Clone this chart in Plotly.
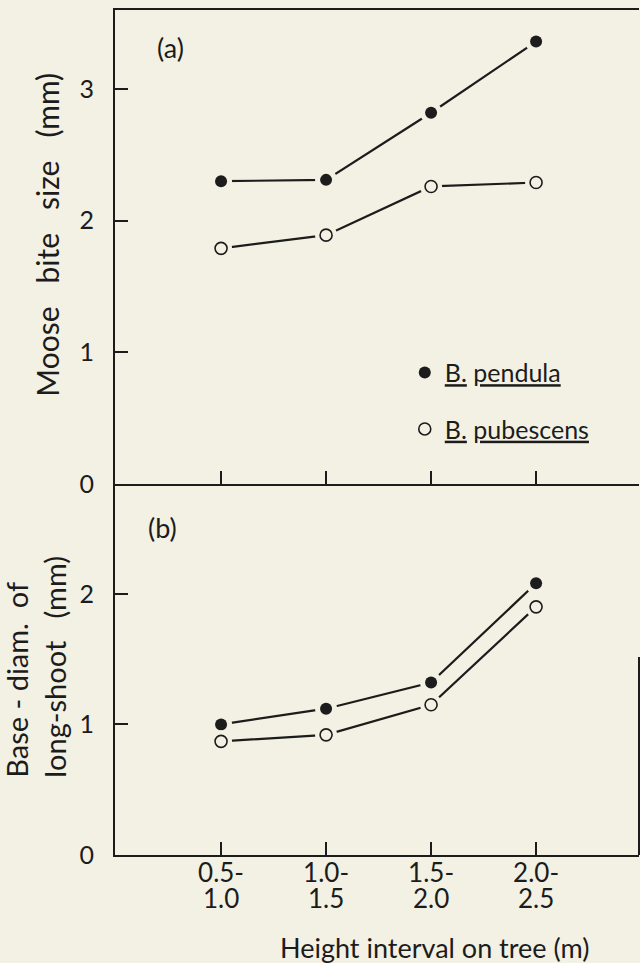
import plotly.graph_objects as go

# Height intervals on the tree (m)
heights = ["0.5-1.0", "1.0-1.5", "1.5-2.0", "2.0-2.5"]

# (a) Moose bite size (mm)
bite_pendula = [2.30, 2.31, 2.82, 3.36]
bite_pubescens = [1.79, 1.89, 2.26, 2.29]

# (b) Base diameter of long-shoot (mm)
diam_pendula = [1.00, 1.12, 1.32, 2.08]
diam_pubescens = [0.87, 0.92, 1.15, 1.90]

species = ["<u>B.</u> <u>pendula</u>", "<u>B.</u> <u>pubescens</u>"]

upper_lines = [h.split("-")[0] + "-" for h in heights]
lower_lines = [h.split("-")[1] for h in heights]

BG = "#f3f1e3"
INK = "#1c1c1c"
FONT = "Lato"

fig = go.Figure()


def add_series(y, xa, ya, filled, name, legend):
    # connecting line
    fig.add_trace(go.Scatter(x=heights, y=y, xaxis=xa, yaxis=ya, mode="lines",
                             line=dict(color=INK, width=2.2),
                             showlegend=False, hoverinfo="skip"))
    # background-coloured halo leaves a small gap between line and symbol
    fig.add_trace(go.Scatter(x=heights, y=y, xaxis=xa, yaxis=ya, mode="markers",
                             marker=dict(size=22, color=BG, line=dict(width=0)),
                             showlegend=False, hoverinfo="skip"))
    if filled:
        marker = dict(size=12, color=INK, line=dict(width=0))
    else:
        marker = dict(size=12, color=BG, line=dict(width=1.6, color=INK))
    fig.add_trace(go.Scatter(x=heights, y=y, xaxis=xa, yaxis=ya, mode="markers",
                             marker=marker, name=name, showlegend=legend,
                             legendgroup=name))


add_series(bite_pendula, "x", "y", True, species[0], True)
add_series(bite_pubescens, "x", "y", False, species[1], True)
add_series(diam_pendula, "x2", "y2", True, species[0], False)
add_series(diam_pubescens, "x2", "y2", False, species[1], False)

# invisible carrier so the second tick-label row axis has categories to show
fig.add_trace(go.Scatter(x=heights, y=diam_pendula, xaxis="x3", yaxis="y2",
                         mode="markers", marker=dict(opacity=0),
                         showlegend=False, hoverinfo="skip"))

xcommon = dict(type="category", categoryorder="array", categoryarray=heights,
               range=[-1.01, 3.98], showgrid=False, zeroline=False,
               showline=True, linecolor=INK, linewidth=2,
               ticks="inside", ticklen=13, tickwidth=2, tickcolor=INK,
               tickmode="array", tickvals=heights)
ycommon = dict(showgrid=False, zeroline=False, showline=True, linecolor=INK,
               linewidth=2, ticks="inside", ticklen=13, tickwidth=2,
               tickcolor=INK, tickfont=dict(size=25, color=INK, family=FONT),
               ticklabelstandoff=14)

fig.update_layout(
    width=640, height=963,
    margin=dict(l=115, r=1, t=10, b=108),
    paper_bgcolor=BG, plot_bgcolor=BG,
    font=dict(family=FONT, color=INK),
    xaxis=dict(**xcommon, anchor="y", domain=[0, 1], mirror=True,
               showticklabels=False),
    yaxis=dict(**ycommon, anchor="x", domain=[0.439, 1], range=[0, 3.6],
               tickvals=[0, 1, 2, 3]),
    xaxis2=dict(**xcommon, anchor="y2", domain=[0, 1], ticktext=upper_lines,
                tickfont=dict(size=26, color=INK, family=FONT),
                ticklabelstandoff=-6),
    yaxis2=dict(**ycommon, anchor="x2", domain=[0, 0.439], range=[0, 2.84],
                tickvals=[0, 1, 2]),
    xaxis3=dict(type="category", categoryorder="array", categoryarray=heights,
                range=[-1.01, 3.98], overlaying="x2", anchor="y2", side="bottom",
                showgrid=False, zeroline=False, showline=False, ticks="",
                tickmode="array", tickvals=heights, ticktext=lower_lines,
                tickfont=dict(size=26, color=INK, family=FONT),
                ticklabelstandoff=26),
    legend=dict(x=0.553, xanchor="left", y=0.598, yanchor="top",
                bgcolor="rgba(0,0,0,0)", font=dict(size=25, color=INK, family=FONT),
                tracegroupgap=21, itemwidth=30),
    showlegend=True,
)

# right-hand frame fragment of panel (b)
fig.add_shape(type="line", xref="x domain", yref="y2 domain",
              x0=1, x1=1, y0=0, y1=0.534, line=dict(color=INK, width=2))

NB = "\u00a0"
fig.add_annotation(text="(a)", xref="paper", yref="paper", x=0.105, y=0.956,
                   xanchor="center", yanchor="middle", showarrow=False,
                   font=dict(size=27, color=INK, family=FONT))
fig.add_annotation(text="(b)", xref="paper", yref="paper", x=0.0897, y=0.388,
                   xanchor="center", yanchor="middle", showarrow=False,
                   font=dict(size=27, color=INK, family=FONT))
fig.add_annotation(text=f"Moose{NB*3}bite{NB*3}size{NB*3}(mm)",
                   xref="paper", yref="paper", x=-0.1298, y=0.734,
                   xanchor="center", yanchor="middle",
                   textangle=-90, showarrow=False,
                   font=dict(size=30, color=INK, family=FONT))
fig.add_annotation(text=f"Base{NB}-{NB}diam.{NB*2}of<br>long-shoot{NB*3}(mm)",
                   xref="paper", yref="paper", x=-0.1508, y=0.089,
                   xanchor="center", yanchor="bottom", align="left",
                   textangle=-90, showarrow=False,
                   font=dict(size=29, color=INK, family=FONT))
fig.add_annotation(text="Height interval on tree (m)",
                   xref="paper", yref="paper", x=0.609, y=-0.109,
                   xanchor="center", yanchor="middle",
                   showarrow=False, font=dict(size=27, color=INK, family=FONT))

fig.write_html("out.html")
